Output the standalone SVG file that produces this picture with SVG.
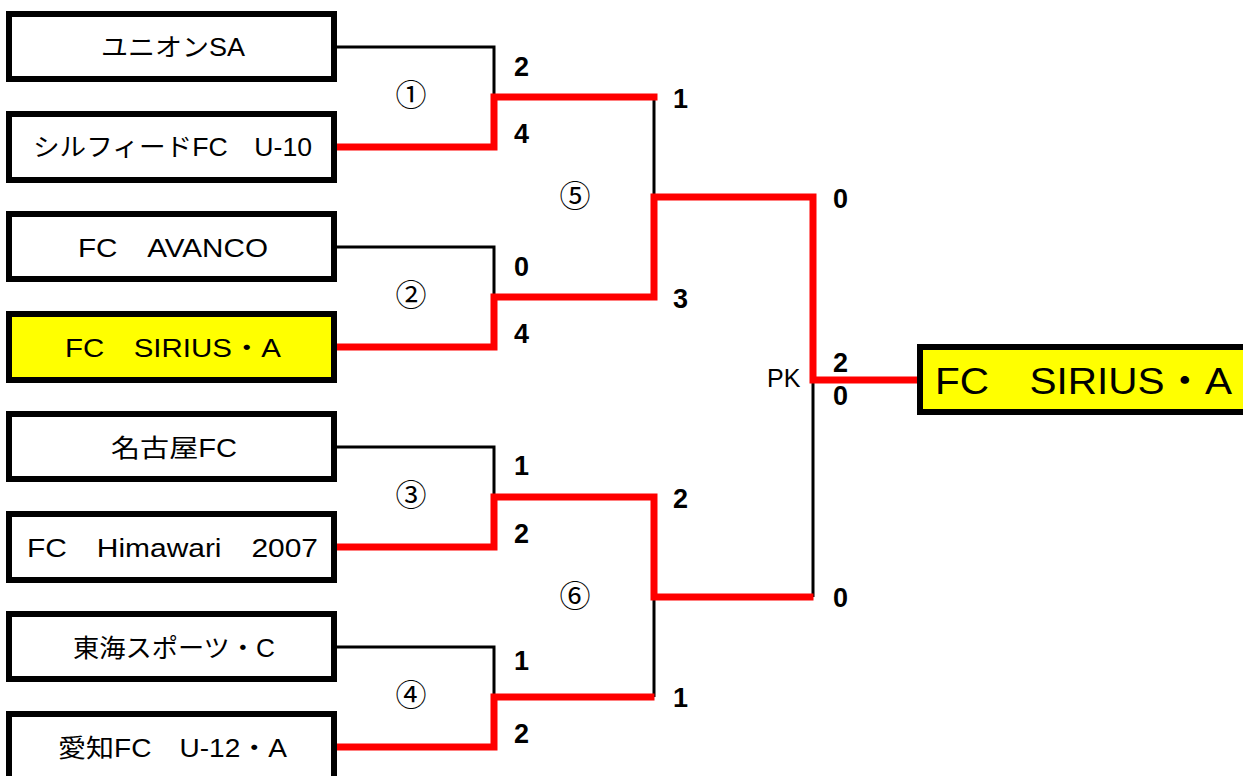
<svg xmlns="http://www.w3.org/2000/svg" width="1243" height="776" viewBox="0 0 1243 776">
<style>
.box{fill:#fff;stroke:#000;stroke-width:6}
.win{fill:#ff0;stroke:#000;stroke-width:6}
.name{font-family:"Liberation Sans","Noto Sans CJK JP",sans-serif;font-size:25px;fill:#000}
.big{font-family:"Liberation Sans","Noto Sans CJK JP",sans-serif;font-size:37px;fill:#000}
.score{font-family:"Liberation Sans",Arial,sans-serif;font-size:27px;font-weight:bold;fill:#000}
.num{font-family:"Noto Sans CJK JP",sans-serif;font-size:31px;fill:#000;text-anchor:middle}
.pk{font-family:"Liberation Sans",Arial,sans-serif;font-size:25px;fill:#000}
.blk{fill:none;stroke:#000;stroke-width:3}
.red{fill:none;stroke:#f00;stroke-width:7;stroke-linejoin:miter;stroke-linecap:square}
</style>
<rect width="1243" height="776" fill="#fff"/>
<g id="connectors">
<polyline class="blk" points="337,47 494,47 494,97"/>
<polyline class="blk" points="337,247 494,247 494,297"/>
<polyline class="blk" points="337,447 494,447 494,497"/>
<polyline class="blk" points="337,647 494,647 494,697"/>
<polyline class="blk" points="654,97 654,197"/>
<polyline class="blk" points="654,597 654,697"/>
<polyline class="blk" points="813,380 813,597"/>
<polyline class="red" points="340,147 494,147 494,97 654,97"/>
<polyline class="red" points="340,347 494,347 494,297 654,297 654,197 813,197 813,380 918,380"/>
<polyline class="red" points="340,547 494,547 494,497 654,497 654,597 810,597"/>
<polyline class="red" points="340,747 494,747 494,697 651,697"/>
</g>
<g id="team1"><rect class="box" x="9" y="14" width="325" height="65"/><text class="name" x="101" y="56" textLength="144" lengthAdjust="spacingAndGlyphs">ユニオンSA</text></g>
<g id="team2"><rect class="box" x="9" y="114" width="325" height="66"/><text class="name" x="33" y="156" textLength="279" lengthAdjust="spacingAndGlyphs">シルフィードFC　U-10</text></g>
<g id="team3"><rect class="box" x="9" y="214" width="325" height="65"/><text class="name" x="78" y="257" textLength="190" lengthAdjust="spacingAndGlyphs">FC　AVANCO</text></g>
<g id="team4"><rect class="win" x="9" y="314" width="325" height="66"/><text class="name" x="65" y="357" textLength="216" lengthAdjust="spacingAndGlyphs">FC　SIRIUS・A</text></g>
<g id="team5"><rect class="box" x="9" y="414" width="325" height="65"/><text class="name" x="111" y="457" textLength="126" lengthAdjust="spacingAndGlyphs">名古屋FC</text></g>
<g id="team6"><rect class="box" x="9" y="514" width="325" height="66"/><text class="name" x="27" y="557" textLength="291" lengthAdjust="spacingAndGlyphs">FC　Himawari　2007</text></g>
<g id="team7"><rect class="box" x="9" y="614" width="325" height="65"/><text class="name" x="73" y="657" textLength="202" lengthAdjust="spacingAndGlyphs">東海スポーツ・C</text></g>
<g id="team8"><rect class="box" x="9" y="714" width="325" height="66"/><text class="name" x="58" y="757" textLength="229" lengthAdjust="spacingAndGlyphs">愛知FC　U-12・A</text></g>
<g id="champion"><rect class="win" x="920" y="347" width="340" height="65"/><text class="big" x="935" y="394" textLength="297" lengthAdjust="spacingAndGlyphs">FC　SIRIUS・A</text></g>
<g id="labels">
<text class="num" x="411" y="106">①</text>
<text class="num" x="411" y="306">②</text>
<text class="num" x="411" y="506">③</text>
<text class="num" x="411" y="706">④</text>
<text class="num" x="575" y="207">⑤</text>
<text class="num" x="575" y="607">⑥</text>
<text class="score" x="514" y="76">2</text>
<text class="score" x="514" y="143">4</text>
<text class="score" x="514" y="276">0</text>
<text class="score" x="514" y="343">4</text>
<text class="score" x="514" y="475">1</text>
<text class="score" x="514" y="543">2</text>
<text class="score" x="514" y="670">1</text>
<text class="score" x="514" y="743">2</text>
<text class="score" x="673" y="108">1</text>
<text class="score" x="673" y="308">3</text>
<text class="score" x="673" y="508">2</text>
<text class="score" x="673" y="707">1</text>
<text class="score" x="833" y="208">0</text>
<text class="score" x="833" y="372">2</text>
<text class="score" x="833" y="405">0</text>
<text class="score" x="833" y="607">0</text>
<text class="pk" x="767" y="387">PK</text>
</g>
</svg>
